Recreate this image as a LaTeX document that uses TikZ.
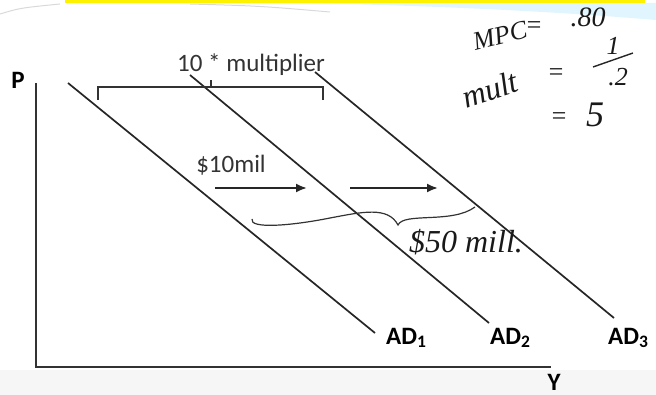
\documentclass[tikz,border=0pt]{standalone}
\usepackage{fontspec}
\setmainfont{Carlito}
\newfontfamily\handfont{Liberation Serif}
\usetikzlibrary{arrows.meta,calc,positioning}

\tikzset{
  adline/.style={line width=1.7pt,draw=black!85},
  axis/.style={line width=2.4pt,draw=black!80},
  lbl/.style={font=\bfseries\fontsize{25}{27}\selectfont,inner sep=0pt},
  note/.style={font=\fontsize{25}{27}\selectfont,inner sep=0pt,text=black!80},
  hand/.style={font=\handfont\itshape\fontsize{26}{28}\selectfont,inner sep=0pt,text=black!90},
  shiftarrow/.style={-{Latex[length=11pt,width=9pt]},line width=2pt,draw=black!85}
}

\begin{document}
\begin{tikzpicture}
[x=1pt,y=-1pt]
\useasboundingbox (0,0) rectangle (656,395);
% slide decoration
\fill[gray!7] (0,370) rectangle (656,395);
\fill[cyan!12] (300,3) .. controls (450,6) and (560,12) .. (656,20) -- (656,3) -- cycle;
\fill[yellow] (65,0) rectangle (645,3);
\draw[gray!30,line width=1pt] (0,14) .. controls (20,8) .. (60,4);
\draw[gray!30,line width=1pt] (190,4) .. controls (260,6) .. (330,12);

% axes
\coordinate (o) at (36,367);
\coordinate (yt) at (36,83);
\coordinate (xe) at (551,367);
\draw[axis] (yt) -- (o) -- (xe);
\node[lbl] (p) at (18,80) {P};
\node[lbl] (y) at (554,382) {Y};

% demand curves
\coordinate (a1) at (68,83);
\coordinate (b1) at (375,333);
\coordinate (a2) at (190,75);
\coordinate (b2) at (489,323);
\coordinate (a3) at (315,72);
\coordinate (b3) at (614,318);
\draw[adline] (a1) -- (b1);
\draw[adline] (a2) -- (b2);
\draw[adline] (a3) -- (b3);
\node[lbl,anchor=west] (ad1) at (386,338) {AD\textsubscript{1}};
\node[lbl,anchor=west] (ad2) at (490,338) {AD\textsubscript{2}};
\node[lbl,anchor=west] (ad3) at (608,338) {AD\textsubscript{3}};

% multiplier bracket
\node[note] (mul) at (251,65) {10 * multiplier};
\coordinate (bl) at (98,100);
\coordinate (br) at (323,100);
\coordinate (bm) at (211,87);
\draw[line width=2.4pt,draw=black!80] (bl) -- (bl |- bm) -- (br |- bm) -- (br);
\draw[line width=2pt,draw=black!80] (bm) -- ++(0,-7);

% spending shift
\node[note] (ten) at (231,165) {\$10mil};
\coordinate (s1) at (215,188);
\coordinate (e1) at (307,188);
\coordinate (s2) at (350,188);
\coordinate (e2) at (438,188);
\draw[shiftarrow] (s1) -- (e1);
\draw[shiftarrow] (s2) -- (e2);

% handwritten notes
\draw[black!80,line width=1.2pt] (252,219) .. controls (249,229) and (290,226) .. (330,218)
  .. controls (362,212) and (388,206) .. (398,225)
  .. controls (404,212) and (452,224) .. (475,207);
\node[hand] (fifty) at (466,242) {\fontsize{32}{34}\selectfont\$50 mill.};
\node[hand,rotate=14] (mpc) at (500,36) {MPC};
\node[hand] (eq1) at (534,28) {=};
\node[hand] (pt8) at (588,17) {\fontsize{28}{30}\selectfont.80};
\node[hand,rotate=18] (mult) at (490,89) {\fontsize{32}{34}\selectfont mult};
\node[hand] (eq2) at (556,75) {=};
\node[hand] (one) at (613,46) {1};
\coordinate (fa) at (593,67);
\coordinate (fb) at (633,53);
\draw[black!85,line width=1.4pt] (fa) -- (fb);
\node[hand] (pt2) at (618,77) {.2};
\node[hand] (eq3) at (559,119) {=};
\node[hand] (five) at (595,115) {\fontsize{36}{38}\selectfont 5};
\end{tikzpicture}
\end{document}
